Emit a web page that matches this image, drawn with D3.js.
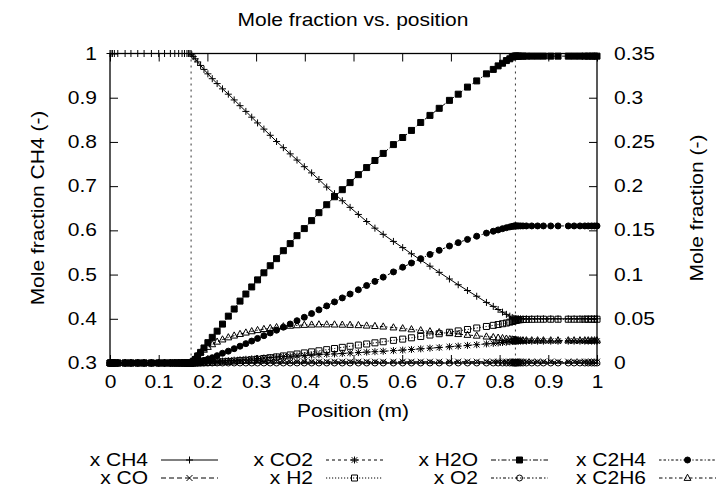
<!DOCTYPE html>
<html>
<head>
<meta charset="utf-8">
<script src="https://cdn.jsdelivr.net/npm/d3@7"></script>
<style>
  body { margin: 0; background: #fff; }
  text { font-family: "Liberation Sans", Arial, Helvetica, sans-serif; fill: #000; }
</style>
</head>
<body>
<svg id="chart" width="716" height="495"></svg>
<script>
// Reactor axial position (m)
const position = [
  0, 0.002, 0.005, 0.009, 0.016, 0.031, 0.043, 0.057, 0.07, 0.085, 0.1, 0.112, 0.124, 0.133, 0.141, 0.148, 0.153, 0.158, 0.161, 0.164, 0.1665,
  0.168, 0.171, 0.175, 0.18, 0.186, 0.193, 0.201, 0.21, 0.22, 0.231, 0.243, 0.255, 0.267, 0.279, 0.291, 0.303, 0.316, 0.329, 0.342, 0.356,
  0.37, 0.384, 0.399, 0.414, 0.429, 0.445, 0.461, 0.477, 0.493, 0.51, 0.527, 0.544, 0.561, 0.582, 0.601, 0.619, 0.638, 0.657, 0.676, 0.697,
  0.715, 0.734, 0.753, 0.773, 0.787, 0.797, 0.806, 0.814, 0.821, 0.826, 0.829, 0.831,
  0.8325, 0.834, 0.836, 0.839, 0.843, 0.848, 0.855, 0.866, 0.878, 0.89, 0.905, 0.92, 0.941, 0.953, 0.965, 0.975, 0.982, 0.989, 0.995, 1.0
];

// Boundaries of the reacting zone (m)
const zoneEdges = [0.1665, 0.8325];

// CH4 mole fraction (left axis)
const xCH4 = [
  1, 1, 1, 1, 1, 1, 1, 1, 1, 1, 1, 1, 1, 1, 1, 1, 1, 1, 1, 1, 1,
  0.997, 0.993, 0.988, 0.981, 0.973, 0.964, 0.954, 0.943, 0.932, 0.920, 0.908, 0.895, 0.882, 0.869, 0.856, 0.843, 0.829, 0.815, 0.801, 0.787,
  0.773, 0.759, 0.744, 0.730, 0.715, 0.698, 0.683, 0.667, 0.652, 0.636, 0.620, 0.605, 0.591, 0.575, 0.561, 0.547, 0.533, 0.519, 0.505, 0.490,
  0.477, 0.464, 0.451, 0.437, 0.428, 0.421, 0.415, 0.410, 0.406, 0.403, 0.401, 0.400,
  0.4, 0.4, 0.4, 0.4, 0.4, 0.4, 0.4, 0.4, 0.4, 0.4, 0.4, 0.4, 0.4, 0.4, 0.4, 0.4, 0.4, 0.4, 0.4, 0.4
];

// Product mole fractions (right axis)
const xCO = [
  0, 0, 0, 0, 0, 0, 0, 0, 0, 0, 0, 0, 0, 0, 0, 0, 0, 0, 0, 0, 0,
  0, 0.0001, 0.0002, 0.0003, 0.0004, 0.0005, 0.0006, 0.0007, 0.0008, 0.0009, 0.001, 0.0011, 0.0012, 0.0012, 0.0013, 0.0013, 0.0013, 0.0014, 0.0014, 0.0014,
  0.0014, 0.0014, 0.0014, 0.0014, 0.0014, 0.0014, 0.0014, 0.0014, 0.0014, 0.0014, 0.0014, 0.0014, 0.0014, 0.0014, 0.0014, 0.0014, 0.0014, 0.0014, 0.0014, 0.0015,
  0.0015, 0.0015, 0.0015, 0.0015, 0.0015, 0.0015, 0.0015, 0.0015, 0.0015, 0.0015, 0.0015, 0.0015,
  0.0015, 0.0015, 0.0015, 0.0015, 0.0015, 0.0015, 0.0015, 0.0015, 0.0015, 0.0015, 0.0015, 0.0015, 0.0015, 0.0015, 0.0015, 0.0015, 0.0015, 0.0015, 0.0015, 0.0015
];

const xCO2 = [
  0, 0, 0, 0, 0, 0, 0, 0, 0, 0, 0, 0, 0, 0, 0, 0, 0, 0, 0, 0, 0,
  0.0001, 0.0002, 0.0003, 0.0005, 0.0007, 0.0009, 0.0011, 0.0014, 0.0018, 0.0022, 0.0027, 0.0032, 0.0037, 0.0042, 0.0047, 0.0051, 0.0057, 0.0062, 0.0067, 0.0072,
  0.0076, 0.0081, 0.0085, 0.0089, 0.0094, 0.0099, 0.0103, 0.0108, 0.0113, 0.0118, 0.0123, 0.0128, 0.0133, 0.014, 0.0146, 0.0153, 0.016, 0.0168, 0.0175, 0.0184,
  0.0191, 0.0199, 0.0207, 0.0216, 0.0222, 0.0227, 0.0232, 0.0236, 0.024, 0.0243, 0.0245, 0.0246,
  0.0247, 0.0247, 0.0247, 0.0247, 0.0247, 0.0247, 0.0247, 0.0247, 0.0247, 0.0247, 0.0247, 0.0247, 0.0247, 0.0247, 0.0247, 0.0247, 0.0247, 0.0247, 0.0247, 0.0247
];

const xH2 = [
  0, 0, 0, 0, 0, 0, 0, 0, 0, 0, 0, 0, 0, 0, 0, 0, 0, 0, 0, 0, 0,
  0, 0.0001, 0.0001, 0.0002, 0.0003, 0.0004, 0.0005, 0.0008, 0.0011, 0.0014, 0.0018, 0.0022, 0.0027, 0.0031, 0.0036, 0.0042, 0.0051, 0.006, 0.0069, 0.008,
  0.0091, 0.0102, 0.0114, 0.0126, 0.0138, 0.0151, 0.0164, 0.0177, 0.0189, 0.0203, 0.0215, 0.0228, 0.024, 0.0256, 0.027, 0.0285, 0.03, 0.0316, 0.0331, 0.0348,
  0.0363, 0.0379, 0.0396, 0.0413, 0.0426, 0.0435, 0.0444, 0.0452, 0.0462, 0.047, 0.0476, 0.048,
  0.0482, 0.0484, 0.0486, 0.0488, 0.049, 0.0492, 0.0493, 0.0494, 0.0495, 0.0495, 0.0495, 0.0495, 0.0495, 0.0495, 0.0495, 0.0495, 0.0495, 0.0495, 0.0495, 0.0495
];

const xH2O = [
  0, 0, 0, 0, 0, 0, 0, 0, 0, 0, 0, 0, 0, 0, 0, 0, 0, 0, 0, 0, 0,
  0.0005, 0.002, 0.004, 0.008, 0.012, 0.017, 0.023, 0.029, 0.036, 0.044, 0.053, 0.061, 0.070, 0.078, 0.086, 0.094, 0.102, 0.110, 0.118, 0.127,
  0.135, 0.144, 0.152, 0.161, 0.170, 0.179, 0.188, 0.196, 0.204, 0.213, 0.221, 0.229, 0.237, 0.247, 0.255, 0.263, 0.272, 0.280, 0.288, 0.297,
  0.304, 0.312, 0.319, 0.327, 0.332, 0.336, 0.339, 0.342, 0.344, 0.346, 0.3465, 0.347,
  0.347, 0.347, 0.347, 0.347, 0.347, 0.347, 0.347, 0.347, 0.347, 0.347, 0.347, 0.347, 0.347, 0.347, 0.347, 0.347, 0.347, 0.347, 0.347, 0.347
];

const xO2 = [
  0, 0, 0, 0, 0, 0, 0, 0, 0, 0, 0, 0, 0, 0, 0, 0, 0, 0, 0, 0, 0,
  0, 0, 0, 0, 0, 0, 0, 0, 0, 0, 0, 0, 0, 0, 0, 0, 0, 0, 0, 0,
  0, 0, 0, 0, 0, 0, 0, 0, 0, 0, 0, 0, 0, 0, 0, 0, 0, 0, 0, 0,
  0, 0, 0, 0, 0, 0, 0, 0, 0, 0, 0, 0,
  0, 0, 0, 0, 0, 0, 0, 0, 0, 0, 0, 0, 0, 0, 0, 0, 0, 0, 0, 0
];

const xC2H4 = [
  0, 0, 0, 0, 0, 0, 0, 0, 0, 0, 0, 0, 0, 0, 0, 0, 0, 0, 0, 0, 0,
  0.0001, 0.0003, 0.0006, 0.001, 0.002, 0.003, 0.0043, 0.006, 0.0083, 0.011, 0.0134, 0.0162, 0.019, 0.0219, 0.0248, 0.0278, 0.0309, 0.034, 0.0371, 0.0405,
  0.0441, 0.0478, 0.0517, 0.0559, 0.0601, 0.0646, 0.0691, 0.0736, 0.078, 0.0828, 0.0876, 0.0923, 0.0971, 0.103, 0.1083, 0.1131, 0.118, 0.1228, 0.1274, 0.1323,
  0.1361, 0.1398, 0.1434, 0.1469, 0.149, 0.1505, 0.1519, 0.153, 0.1539, 0.1545, 0.1548, 0.155,
  0.155, 0.155, 0.155, 0.155, 0.155, 0.155, 0.155, 0.155, 0.155, 0.155, 0.155, 0.155, 0.155, 0.155, 0.155, 0.155, 0.155, 0.155, 0.155, 0.155
];

const xC2H6 = [
  0, 0, 0, 0, 0, 0, 0, 0, 0, 0, 0, 0, 0, 0, 0, 0, 0, 0, 0, 0, 0,
  0.0015, 0.0035, 0.006, 0.009, 0.0118, 0.0149, 0.0181, 0.0211, 0.024, 0.0265, 0.0289, 0.0309, 0.0327, 0.0343, 0.0358, 0.0371, 0.0383, 0.0394, 0.0404, 0.0413,
  0.042, 0.0426, 0.043, 0.0433, 0.0435, 0.0435, 0.0434, 0.0432, 0.043, 0.0427, 0.0422, 0.0417, 0.0411, 0.0401, 0.0391, 0.038, 0.0369, 0.0357, 0.0347, 0.0336,
  0.0326, 0.0317, 0.0308, 0.0298, 0.0291, 0.0285, 0.028, 0.0274, 0.0269, 0.0265, 0.0262, 0.026,
  0.0258, 0.0257, 0.0256, 0.0255, 0.0255, 0.0255, 0.0255, 0.0255, 0.0255, 0.0255, 0.0255, 0.0255, 0.0255, 0.0255, 0.0255, 0.0255, 0.0255, 0.0255, 0.0255, 0.0255
];

const seriesNames = ["x CH4", "x CO", "x CO2", "x H2", "x H2O", "x O2", "x C2H4", "x C2H6"];
const seriesValues = [xCH4, xCO, xCO2, xH2, xH2O, xO2, xC2H4, xC2H6];
const seriesAxis = ["left", "right", "right", "right", "right", "right", "right", "right"];

const xTicks = [0, 0.1, 0.2, 0.3, 0.4, 0.5, 0.6, 0.7, 0.8, 0.9, 1];
const yLeftTicks = [0.3, 0.4, 0.5, 0.6, 0.7, 0.8, 0.9, 1];
const yRightTicks = [0, 0.05, 0.1, 0.15, 0.2, 0.25, 0.3, 0.35];

// ---- drawing styles ----
const dashes = ["none", "5,3", "3,3", "1.2,1.8", "5,2,1.5,2", "3,2,1.5,2,1.5,2", "2.5,2,2.5,2,1.2,2", "3.5,2.5,1.5,2.5"];
const markers = ["plus", "cross", "star", "box", "boxFill", "circle", "circleFill", "triangle"];
const SX = 1.2;      // horizontal stretch of the glyphs
const FS = 17.5;     // font size

const L = 110, R = 597, T = 53.5, B = 363;

const svg = d3.select("#chart");
svg.append("rect").attr("width", 716).attr("height", 495).attr("fill", "#fff");

const x = d3.scaleLinear().domain([0, 1]).range([L, R]);
const yL = d3.scaleLinear().domain([0.3, 1]).range([B, T]);
const yR = d3.scaleLinear().domain([0, 0.35]).range([B, T]);

function stretchText(sel) {
  sel.selectAll("text").each(function () {
    const t = d3.select(this);
    const tx = +t.attr("x") || 0;
    t.attr("x", tx / SX).attr("transform", `scale(${SX},1)`);
  });
}

function styleAxis(g) {
  g.select(".domain").remove();
  g.selectAll("line").attr("stroke", "#000").attr("stroke-width", 1);
  g.selectAll("text").attr("font-size", FS).attr("font-family", null).attr("fill", "#000");
}

const fmt = d3.format("~g");

// bottom and top x axes (ticks point inward)
const gx = svg.append("g").attr("transform", `translate(0,${B})`)
  .call(d3.axisBottom(x).tickValues(xTicks).tickFormat(fmt).tickSizeInner(-8).tickSizeOuter(0).tickPadding(13));
styleAxis(gx); stretchText(gx);
const gxt = svg.append("g").attr("transform", `translate(0,${T})`)
  .call(d3.axisTop(x).tickValues(xTicks).tickFormat("").tickSizeInner(-8).tickSizeOuter(0));
styleAxis(gxt);

// left y axis
const gyl = svg.append("g").attr("transform", `translate(${L},0)`)
  .call(d3.axisLeft(yL).tickValues(yLeftTicks).tickFormat(fmt).tickSizeInner(-8).tickSizeOuter(0).tickPadding(13));
styleAxis(gyl); stretchText(gyl);

// right y axis
const gyr = svg.append("g").attr("transform", `translate(${R},0)`)
  .call(d3.axisRight(yR).tickValues(yRightTicks).tickFormat(fmt).tickSizeInner(-8).tickSizeOuter(0).tickPadding(17));
styleAxis(gyr); stretchText(gyr);

// plot frame
svg.append("rect").attr("x", L).attr("y", T).attr("width", R - L).attr("height", B - T)
  .attr("fill", "none").attr("stroke", "#000").attr("stroke-width", 1.3);

// zone boundaries
svg.append("g").selectAll("line").data(zoneEdges).join("line")
  .attr("x1", d => x(d)).attr("x2", d => x(d)).attr("y1", T).attr("y2", B)
  .attr("stroke", "#333").attr("stroke-width", 1).attr("stroke-dasharray", "2,4");

// marker shapes
function markerPath(type) {
  switch (type) {
    case "plus": return "M-3.5,0H3.5M0,-3.5V3.5";
    case "cross": return "M-3,-3L3,3M-3,3L3,-3";
    case "star": return "M-3.5,0H3.5M0,-3.5V3.5M-2.8,-2.8L2.8,2.8M-2.8,2.8L2.8,-2.8";
    case "box": case "boxFill": return "M-3,-3H3V3H-3Z";
    case "circle": case "circleFill": return "M3,0A3,3 0 1,1 -3,0A3,3 0 1,1 3,0Z";
    case "triangle": return "M0,-3.8L3.4,2.4H-3.4Z";
  }
}
function markerFill(type) {
  return (type === "boxFill" || type === "circleFill") ? "#000" : "none";
}

const plot = svg.append("g");
seriesValues.forEach((vals, i) => {
  const y = seriesAxis[i] === "left" ? yL : yR;
  const pts = position.map((p, j) => [x(p), y(vals[j])]);
  plot.append("path")
    .attr("d", d3.line()(pts))
    .attr("fill", "none").attr("stroke", "#000").attr("stroke-width", 1)
    .attr("stroke-dasharray", dashes[i] === "none" ? null : dashes[i]);
  plot.append("g").selectAll("path").data(pts).join("path")
    .attr("transform", d => `translate(${d[0]},${d[1]})`)
    .attr("d", markerPath(markers[i]))
    .attr("fill", markerFill(markers[i]))
    .attr("stroke", "#000").attr("stroke-width", 1);
});

// titles
function label(px, py, txt, anchor, rot) {
  svg.append("text")
    .attr("transform", `translate(${px},${py})${rot ? ` rotate(${rot})` : ""} scale(${SX},1)`)
    .attr("text-anchor", anchor).attr("font-size", FS).text(txt);
}
label(353, 26, "Mole fraction vs. position", "middle");
label(353, 417, "Position (m)", "middle");
label(44, 208, "Mole fraction CH4 (-)", "middle", -90);
label(703, 208, "Mole fraction (-)", "middle", -90);

// legend: 4 columns, 2 rows
const legendTextEnd = [148, 313, 478, 646];
const legendRows = [466, 484];
seriesNames.forEach((name, i) => {
  const col = Math.floor(i / 2), row = i % 2;
  const xe = legendTextEnd[col], yb = legendRows[row];
  label(xe, yb, name, "end");
  const ly = yb - 6;
  svg.append("line").attr("x1", xe + 13).attr("x2", xe + 70).attr("y1", ly).attr("y2", ly)
    .attr("stroke", "#000").attr("stroke-width", 1)
    .attr("stroke-dasharray", dashes[i] === "none" ? null : dashes[i]);
  svg.append("path").attr("transform", `translate(${xe + 41.5},${ly})`)
    .attr("d", markerPath(markers[i])).attr("fill", markerFill(markers[i]))
    .attr("stroke", "#000").attr("stroke-width", 1);
});
</script>
</body>
</html>
